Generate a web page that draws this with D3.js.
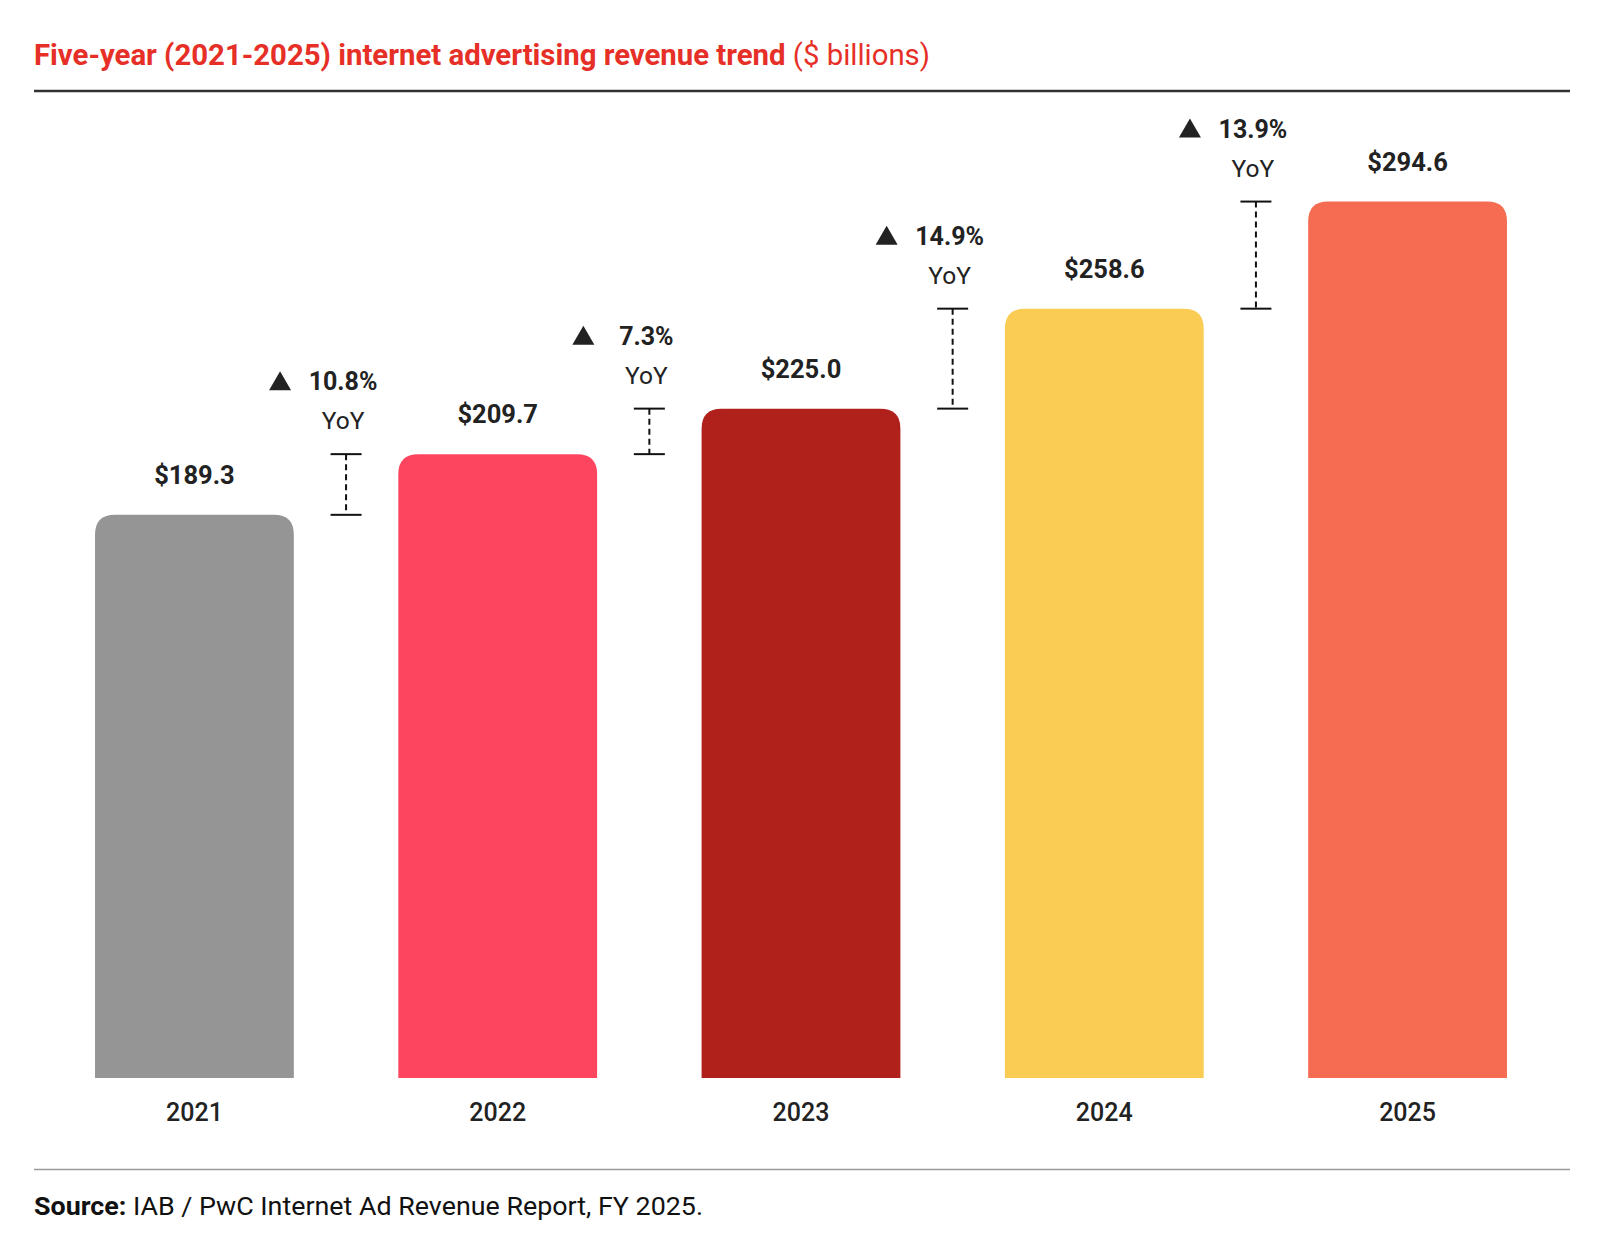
<!DOCTYPE html>
<html>
<head>
<meta charset="utf-8">
<script src="https://cdn.jsdelivr.net/npm/d3@7"></script>
<style>
  html, body { margin: 0; padding: 0; background: #ffffff; }
  svg { display: block; font-family: Roboto, "Noto Sans", sans-serif; }
</style>
</head>
<body>
<svg id="chart" width="1609" height="1249"></svg>
<script>
// ---- data ----
const years = ["2021", "2022", "2023", "2024", "2025"];
const revenue = [189.3, 209.7, 225.0, 258.6, 294.6];
const yoyGrowth = [10.8, 7.3, 14.9, 13.9]; // growth into 2022..2025
const barColors = ["#959595", "#fe4560", "#b0211b", "#facc53", "#f66c52"];
const titleBold = "Five-year (2021-2025) internet advertising revenue trend";
const titleRegular = " ($ billions)";
const sourceBold = "Source:";
const sourceRegular = " IAB / PwC Internet Ad Revenue Report, FY 2025.";

// ---- layout ----
const W = 1609, H = 1249;
const left = 34, right = 1570;
const baseY = 1078;
const svg = d3.select("#chart");

const x = d3.scaleBand().domain(years).range([33, 1569]).paddingInner(0.3445).paddingOuter(0.2045);
const y = d3.scaleLinear().domain([0, 300]).range([baseY, baseY - 892.5]);

function fit(node, target) {
  d3.select(node).attr("textLength", target).attr("lengthAdjust", "spacingAndGlyphs");
}

// title
const title = svg.append("text")
  .attr("x", left).attr("y", 65)
  .attr("fill", "#e63027")
  .style("font-size", "29.5px");
title.append("tspan").attr("font-weight", 700).text(titleBold);
title.append("tspan").attr("font-weight", 400).text(titleRegular);
fit(title.node(), 896);

// top rule
svg.append("line").attr("x1", left).attr("x2", right).attr("y1", 91).attr("y2", 91)
  .attr("stroke", "#333").attr("stroke-width", 2.5);

// bars with rounded top corners
const r = 20;
function barPath(x0, w, yt, yb) {
  return `M${x0},${yb}V${yt + r}Q${x0},${yt} ${x0 + r},${yt}H${x0 + w - r}Q${x0 + w},${yt} ${x0 + w},${yt + r}V${yb}Z`;
}
const bw = x.bandwidth();
svg.append("g").selectAll("path").data(years).join("path")
  .attr("d", (d, i) => barPath(x(d), bw, y(revenue[i]), y(0)))
  .attr("fill", (d, i) => barColors[i]);

// value labels
svg.append("g").selectAll("text").data(years).join("text")
  .attr("x", d => x(d) + bw / 2)
  .attr("y", (d, i) => y(revenue[i]) - 31)
  .attr("text-anchor", "middle")
  .attr("font-weight", 700)
  .attr("fill", "#222")
  .style("font-size", "25.5px")
  .text((d, i) => "$" + revenue[i].toFixed(1));

// x axis labels
const xAxis = d3.axisBottom(x).tickSize(0).tickPadding(0);
const axG = svg.append("g").attr("transform", `translate(0,${baseY})`).call(xAxis);
axG.select(".domain").remove();
axG.selectAll("text")
  .attr("dy", null)
  .attr("y", 43)
  .attr("fill", "#222")
  .attr("font-weight", 500)
  .style("font-size", "25px")
  .style("font-family", "Roboto, sans-serif");

// YoY annotations
const step = x.step();
yoyGrowth.forEach((g, k) => {
  const prev = years[k];
  const bx = x(prev) + bw + (step - bw) / 2;
  const yTop = y(revenue[k + 1]);
  const yBot = y(revenue[k]);
  const grp = svg.append("g");
  grp.append("line").attr("x1", bx).attr("x2", bx).attr("y1", yTop).attr("y2", yBot)
    .attr("stroke", "#111").attr("stroke-width", 2).attr("stroke-dasharray", "6,4");
  [yTop, yBot].forEach(yy => grp.append("line")
    .attr("x1", bx - 15.5).attr("x2", bx + 15.5).attr("y1", yy).attr("y2", yy)
    .attr("stroke", "#111").attr("stroke-width", 2));
  const base = yTop - 64;
  const tx = bx - 66;
  grp.append("path")
    .attr("d", `M${tx - 11},${base}L${tx + 11},${base}L${tx},${base - 19}Z`)
    .attr("fill", "#222");
  grp.append("text").attr("x", bx - 3).attr("y", base)
    .attr("text-anchor", "middle").attr("font-weight", 700).attr("fill", "#222")
    .style("font-size", "25px").text(g.toFixed(1) + "%");
  grp.append("text").attr("x", bx - 3).attr("y", yTop - 25)
    .attr("text-anchor", "middle").attr("font-weight", 400).attr("fill", "#222")
    .style("font-size", "24.5px").text("YoY");
});

// bottom rule
svg.append("line").attr("x1", left).attr("x2", right).attr("y1", 1169.5).attr("y2", 1169.5)
  .attr("stroke", "#9a9a9a").attr("stroke-width", 1.5);

// source
const src = svg.append("text").attr("x", left).attr("y", 1215)
  .attr("fill", "#111").style("font-size", "26.5px");
src.append("tspan").attr("font-weight", 700).text(sourceBold);
src.append("tspan").attr("font-weight", 400).text(sourceRegular);
fit(src.node(), 669);
</script>
</body>
</html>
